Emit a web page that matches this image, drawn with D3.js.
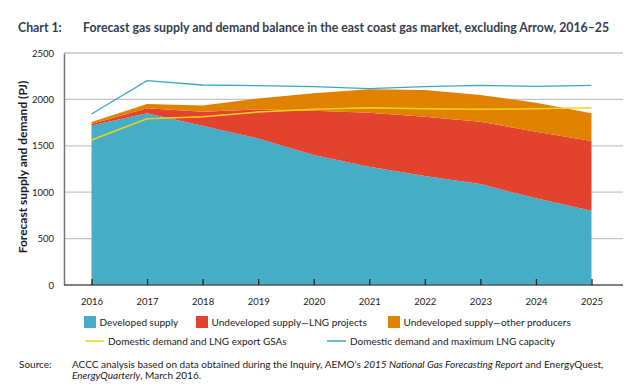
<!DOCTYPE html>
<html>
  <head>
    <meta charset="utf-8">
    <title>Forecast gas supply and demand balance</title>
    <script src="https://cdnjs.cloudflare.com/ajax/libs/d3/7.8.5/d3.min.js" charset="utf-8"></script>
    <style>
      body { margin: 0; background: #fff; }
      text { font-family: Lato, "Open Sans", sans-serif; fill: #1a1a1a; }
    </style>
  </head>

  <body>
    <div id="chart"></div>
    <script>

// chart values
var years = [2016, 2017, 2018, 2019, 2020, 2021, 2022, 2023, 2024, 2025];
var developed = [1718, 1852, 1717, 1580, 1400, 1275, 1175, 1088, 934, 801];
var lngProjects = [18, 52, 151, 313, 478, 582, 639, 672, 718, 751];
var otherProducers = [20, 46, 65, 118, 188, 252, 287, 287, 313, 298];
var demandGSA = [1562, 1792, 1814, 1864, 1893, 1911, 1900, 1893, 1900, 1911];
var demandLNGcap = [1843, 2202, 2155, 2148, 2137, 2116, 2137, 2152, 2141, 2152];
var yTicks = [0, 500, 1000, 1500, 2000, 2500];

window.addEventListener("load", draw);

function draw () {
  var W = 639, H = 386;
  var mLeft = 64, mRight = 623, mTop = 53, mBottom = 285;

  var svg = d3.select("#chart").append("svg")
      .attr("width", W).attr("height", H);

  var x = d3.scalePoint().domain(years).range([91.5, 591.5]);
  var y = d3.scaleLinear().domain([0, 2500]).range([mBottom, mTop]);

  // title
  svg.append("text").attr("x", 18).attr("y", 32)
      .style("font-size", "12.3px").style("font-weight", "bold").style("fill", "#333d4f")
      .text("Chart 1:");
  svg.append("text").attr("x", 83).attr("y", 32)
      .style("font-size", "12.3px").style("font-weight", "bold").style("fill", "#333d4f")
      .text("Forecast gas supply and demand balance in the east coast gas market, excluding Arrow, 2016\u201325");

  // gridlines
  svg.append("g").selectAll("line").data(yTicks.slice(1)).enter().append("line")
      .attr("x1", mLeft).attr("x2", mRight)
      .attr("y1", function(d) { return y(d); }).attr("y2", function(d) { return y(d); })
      .style("stroke", "#c4c4c4").style("stroke-width", 1.3);

  // stacked areas
  var rows = years.map(function(yr, i) {
    return { year: yr, dev: developed[i], lng: lngProjects[i], oth: otherProducers[i] };
  });
  var series = d3.stack().keys(["dev", "lng", "oth"])(rows);
  var colors = { dev: "#45adc6", lng: "#e2432f", oth: "#e08200" };

  var area = d3.area()
      .x(function(d) { return x(d.data.year); })
      .y0(function(d) { return y(d[0]); })
      .y1(function(d) { return y(d[1]); });

  svg.append("g").selectAll("path").data(series).enter().append("path")
      .attr("d", area)
      .style("fill", function(s) { return colors[s.key]; });

  // demand lines
  var line = d3.line()
      .x(function(d, i) { return x(years[i]); })
      .y(function(d) { return y(d); });

  svg.append("path").datum(demandLNGcap).attr("d", line)
      .style("fill", "none").style("stroke", "#3aa7c4").style("stroke-width", 1.3);
  svg.append("path").datum(demandGSA).attr("d", line)
      .style("fill", "none").style("stroke", "#f0d21c").style("stroke-width", 1.5);

  // y axis
  var yAxis = d3.axisLeft(y).tickValues(yTicks).tickFormat(d3.format("d"))
      .tickSize(0).tickPadding(10);
  var gy = svg.append("g").attr("transform", "translate(" + mLeft + ",0)").call(yAxis);
  gy.select(".domain").style("stroke", "#777").style("stroke-width", 1.5);
  gy.selectAll("text").style("font-size", "9.5px").style("fill", "#1a1a1a");

  // x axis
  var xAxis = d3.axisBottom(x).tickSize(-6).tickPadding(13).tickSizeOuter(0);
  var gx = svg.append("g").attr("transform", "translate(0," + mBottom + ")").call(xAxis);
  gx.select(".domain").attr("d", "M" + mLeft + ",0H" + mRight)
      .style("stroke", "#555").style("stroke-width", 1.5);
  gx.selectAll(".tick line").style("stroke", "#222").style("stroke-width", 1.3);
  gx.selectAll("text").style("font-size", "9.5px").style("fill", "#1a1a1a");

  // y axis title
  svg.append("text")
      .attr("transform", "translate(27,167) rotate(-90)")
      .attr("text-anchor", "middle")
      .style("font-size", "12px").style("font-weight", "bold")
      .text("Forecast supply and demand (PJ)");

  // legend
  var boxes = [
    { label: "Developed supply", c: colors.dev, x: 84 },
    { label: "Undeveloped supply\u2014LNG projects", c: colors.lng, x: 196 },
    { label: "Undeveloped supply\u2014other producers", c: colors.oth, x: 388 }
  ];
  var lg = svg.append("g");
  boxes.forEach(function(b) {
    lg.append("rect").attr("x", b.x).attr("y", 316).attr("width", 12).attr("height", 12)
        .style("fill", b.c);
    lg.append("text").attr("x", b.x + 15.5).attr("y", 325.5)
        .style("font-size", "10px").text(b.label);
  });
  var lines = [
    { label: "Domestic demand and LNG export GSAs", c: "#f0d21c", x: 85 },
    { label: "Domestic demand and maximum LNG capacity", c: "#3aa7c4", x: 327 }
  ];
  lines.forEach(function(b) {
    lg.append("line").attr("x1", b.x).attr("x2", b.x + 19).attr("y1", 341).attr("y2", 341)
        .style("stroke", b.c).style("stroke-width", 1.5);
    lg.append("text").attr("x", b.x + 23).attr("y", 344.5)
        .style("font-size", "10px").text(b.label);
  });

  // source note
  var src = svg.append("g").style("font-size", "10px");
  src.append("text").attr("x", 19).attr("y", 367.5).text("Source:");
  var t1 = src.append("text").attr("x", 72).attr("y", 367.5);
  t1.append("tspan").text("ACCC analysis based on data obtained during the Inquiry, AEMO\u2019s ");
  t1.append("tspan").style("font-style", "italic").text("2015 National Gas Forecasting Report");
  t1.append("tspan").text(" and EnergyQuest,");
  var t2 = src.append("text").attr("x", 72).attr("y", 379);
  t2.append("tspan").style("font-style", "italic").text("EnergyQuarterly");
  t2.append("tspan").text(", March 2016.");
}

    </script>
  </body>
</html>
